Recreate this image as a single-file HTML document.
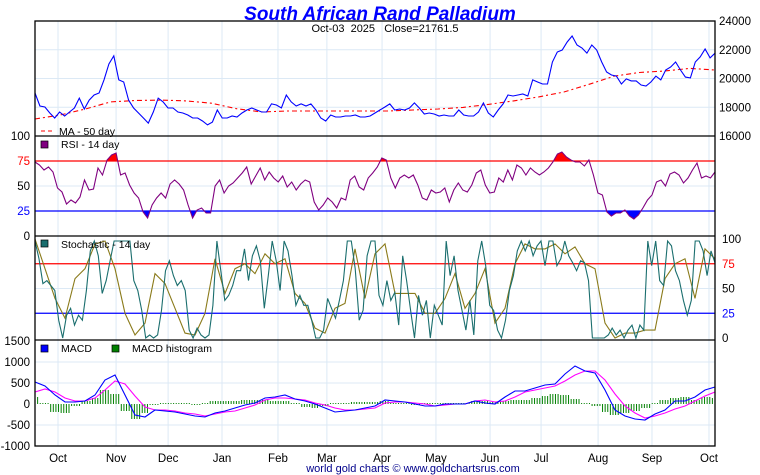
<!DOCTYPE html>
<html><head><meta charset="utf-8"><style>
body{margin:0;background:#fff;}
svg{display:block;font-family:"Liberation Sans",sans-serif;}
text{white-space:pre;}
</style></head><body>
<svg id="chart" width="760" height="475" viewBox="0 0 760 475">
<defs>
<clipPath id="clipAbove"><rect x="35" y="136" width="680" height="25"/></clipPath>
<clipPath id="clipBelow"><rect x="35" y="211" width="680" height="25"/></clipPath>
</defs>
<g id="grid"></g>
<g id="marks"></g>
<g id="frame" stroke="#000" stroke-width="1.3" fill="none">
<rect x="35" y="21" width="680" height="425"/>
<line x1="35" y1="136" x2="715" y2="136"/><line x1="35" y1="236" x2="715" y2="236"/><line x1="35" y1="340" x2="715" y2="340"/>
</g>
<text x="380" y="20" text-anchor="middle" font-size="19" font-weight="bold" font-style="italic" fill="#0000ff">South African Rand Palladium</text>
<text x="385" y="32" text-anchor="middle" font-size="11" fill="#000">Oct-03  2025   Close=21761.5</text>
<text x="413" y="472" text-anchor="middle" font-size="11" fill="#00008b">world gold charts © www.goldchartsrus.com</text>
<g><line x1="41" y1="131" x2="55" y2="131" stroke="#ff0000" stroke-dasharray="4,3"/><text x="59" y="135" font-size="10.5">MA - 50 day</text></g>
<g><rect x="41" y="141" width="7" height="7" fill="#800080" stroke="#000" stroke-width="0.7"/><text x="61" y="148" font-size="10.5">RSI - 14 day</text></g>
<g><rect x="41" y="240" width="7" height="7" fill="#1a6e6e" stroke="#000" stroke-width="0.7"/><text x="61" y="248" font-size="10.5">Stochastic - 14 day</text></g>
<g><rect x="41" y="345" width="7" height="7" fill="#0000ff" stroke="#000" stroke-width="0.7"/><text x="61" y="352" font-size="10.5">MACD</text></g>
<g><rect x="112" y="345" width="7" height="7" fill="#008000" stroke="#000" stroke-width="0.7"/><text x="132" y="352" font-size="10.5">MACD histogram</text></g>
</svg>
<script>
const months = ["Oct","Nov","Dec","Jan","Feb","Mar","Apr","May","Jun","Jul","Aug","Sep","Oct"];
const monthDay = [8.8,31,50.9,71.5,92.9,111.6,132.7,153.3,174,193.5,215.3,235.9,257.7];
const priceTicks = [24000,22000,20000,18000,16000];
const rsiTicks = [100,75,50,25,0];
const stochTicks = [100,75,50,25,0];
const macdTicks = [1500,1000,500,0,-500,-1000];
const price = [18990,18090,18020,17600,17250,17670,17390,17670,17950,18640,17880,18500,18850,18990,19900,21010,21570,19900,19760,18500,17950,17600,17250,16900,17670,18640,18370,17950,17950,17670,17600,17460,17250,17250,17040,16770,16970,17810,17250,17250,17390,17320,17600,17810,17950,17810,17670,17670,18230,18160,17950,18850,18370,18090,18230,18090,18230,17810,17250,17040,17460,17320,17320,17390,17390,17460,17320,17320,17390,17600,17810,18020,18230,17810,17880,17810,17950,18300,17950,17530,17600,17530,17390,17460,17390,17390,17810,17460,17390,17390,17670,18300,17600,17320,17810,18230,18850,18780,18850,18920,18780,19900,19760,19620,19620,21150,21840,21980,22540,22960,22330,22120,21770,22330,21980,21150,20450,20240,20170,19620,19970,19830,19830,19550,19480,19760,20170,19900,20590,20800,21150,20590,20100,20040,21150,21500,22050,21430,21760];
const ma50 = [17180,17460,17880,18370,18470,18500,18440,18280,17900,17670,17740,17740,17740,17740,17740,17810,17880,17990,18200,18440,18720,19060,19600,20170,20420,20520,20700,20590];
const rsi = [74,71,66,69,64,48,44,32,36,33,39,56,46,47,68,61,76,81,83,61,63,51,43,38,24,18,31,38,43,38,52,56,52,46,31,18,26,28,23,23,50,56,43,50,53,58,63,69,52,60,68,56,64,58,54,60,49,54,46,52,56,54,34,26,31,38,34,28,38,36,56,60,49,46,58,63,69,78,76,58,48,58,61,58,61,51,38,36,46,43,44,48,34,46,53,46,44,51,63,66,51,43,44,58,54,66,56,71,68,61,68,64,61,64,68,74,82,84,79,76,74,74,70,76,61,43,41,24,20,23,23,26,20,17,21,28,36,41,54,56,50,62,64,61,53,58,66,73,58,60,58,64];
const stochK = [98,80,55,58,53,48,18,0,23,30,13,23,18,48,88,98,83,45,58,78,98,98,98,98,98,58,48,28,0,3,0,3,28,68,78,63,53,58,48,8,0,10,3,0,3,33,98,68,38,43,53,68,68,90,58,83,93,78,30,63,98,78,48,98,88,63,33,43,33,33,18,0,0,8,40,30,20,38,58,98,98,70,18,28,83,98,98,43,33,58,38,46,13,83,58,28,0,43,23,38,0,33,23,13,98,63,83,48,28,8,38,3,78,98,73,33,28,8,0,18,48,63,88,98,88,98,83,93,98,73,98,98,73,80,98,83,76,68,78,76,58,0,0,0,0,3,10,3,8,0,8,13,0,13,8,98,73,98,58,53,98,93,68,58,38,23,38,98,98,88,63,88,76];
const stochD = [100,70,40,20,60,70,95,98,70,25,3,15,65,55,30,5,3,25,80,45,70,75,65,85,75,80,45,35,10,5,30,35,90,40,85,95,45,45,45,25,25,40,65,30,45,70,15,30,75,95,90,90,95,85,92,75,70,15,0,5,5,8,8,60,75,80,40,90,80];
const macd = [524,428,214,48,48,71,214,571,690,214,-262,-309,-143,-167,-190,-238,-286,-309,-214,-167,-95,-24,24,143,167,214,119,71,0,-95,-190,-167,-143,-95,-48,95,71,48,0,-48,-48,0,0,0,71,24,0,167,309,309,381,452,476,714,904,785,738,333,-143,-286,-357,-381,-238,-143,71,71,167,333,405];
const signal = [286,357,286,143,71,71,143,333,547,476,190,-71,-143,-143,-167,-214,-238,-286,-238,-190,-167,-95,-24,95,143,143,119,95,24,-24,-95,-143,-143,-119,-95,24,48,48,24,0,-48,-24,0,0,71,95,48,71,167,286,333,381,428,547,690,785,785,571,238,-48,-214,-333,-286,-214,-119,-48,71,190,286];
const histogram = [167,0,-190,-214,-48,71,143,333,238,-167,-357,-214,-24,0,0,0,-24,0,71,71,71,95,95,95,71,71,0,-71,-95,-48,0,24,48,48,48,71,24,0,-24,0,24,24,0,24,71,71,48,71,95,95,143,190,238,214,119,24,-48,-190,-262,-214,-167,-95,24,95,143,167,95,167,143];

const NS="http://www.w3.org/2000/svg";
const X0=35,X1=715,TOTAL=260;
const svg=document.getElementById('chart');
const grid=document.getElementById('grid');
const marks=document.getElementById('marks');
function xIdx(i,n){return X0+(X1-X0)*i/(n-1);}
function xDay(d){return X0+(X1-X0)*d/TOTAL;}
function yPrice(v){return 21+(24000-v)/8000*115;}
function yRsi(v){return 236-v;}
function yStoch(v){return 338-v*0.99;}
function yMacd(v){return 404-v*0.042;}
function mk(tag,attrs,parent){const e=document.createElementNS(NS,tag);for(const k in attrs)e.setAttribute(k,attrs[k]);(parent||marks).appendChild(e);return e;}
function pts(arr,yf){return arr.map((v,i)=>xIdx(i,arr.length).toFixed(1)+','+yf(v).toFixed(1)).join(' ');}
function txt(x,y,s,anchor,color,name){const t=mk('text',{x:x,y:y,'font-size':11.5,'text-anchor':anchor,fill:color},svg);t.textContent=s;


return t;}

monthDay.forEach((d,i)=>{const x=xDay(d);
 const l=mk('line',{x1:x,y1:21,x2:x,y2:446,stroke:'#dce9f5','stroke-width':1},grid);
 
 
 txt(x,462,months[i],'middle','#000','x-axis-month-label');});
[22000,20000,18000].forEach(v=>{const g=mk('line',{x1:X0,y1:yPrice(v),x2:X1,y2:yPrice(v),stroke:'#dce9f5'},grid);
 
 });
[1000,500,-500].forEach(v=>{const g=mk('line',{x1:X0,y1:yMacd(v),x2:X1,y2:yMacd(v),stroke:'#dce9f5'},grid);
 
 });
{const g=mk('line',{x1:X0,y1:yStoch(50),x2:X1,y2:yStoch(50),stroke:'#dce9f5'},grid);
 
 }
{const g=mk('line',{x1:X0,y1:yRsi(50),x2:X1,y2:yRsi(50),stroke:'#dce9f5'},grid);
 
 }

priceTicks.forEach(v=>txt(719,yPrice(v)+4,String(v),'start','#000','price-tick-label'));
rsiTicks.forEach(v=>txt(30,yRsi(v)+4,String(v),'end',v===75?'#ff0000':v===25?'#0000ff':'#000','rsi-tick-label'));
stochTicks.forEach(v=>txt(722,yStoch(v)+4,String(v),'start',v===75?'#ff0000':v===25?'#0000ff':'#000','stoch-tick-label'));
macdTicks.forEach(v=>txt(30,yMacd(v)+4,String(v),'end','#000','macd-tick-label'));

const rp=pts(rsi,yRsi);
let e=mk('polygon',{points:X0+','+yRsi(75)+' '+rp+' '+X1+','+yRsi(75),fill:'#ff0000','clip-path':'url(#clipAbove)'});


e=mk('polygon',{points:X0+','+yRsi(25)+' '+rp+' '+X1+','+yRsi(25),fill:'#0000ff','clip-path':'url(#clipBelow)'});



[[yRsi(75),'#ff0000','rsi-75-line'],[yRsi(25),'#0000ff','rsi-25-line'],[yStoch(75),'#ff0000','stoch-75-line'],[yStoch(25),'#0000ff','stoch-25-line']].forEach(a=>{
 const l=mk('line',{x1:X0,y1:a[0],x2:X1,y2:a[0],stroke:a[1],'stroke-width':1.2});
 
 });

e=mk('polyline',{points:pts(ma50,yPrice),fill:'none',stroke:'#ff0000','stroke-width':1.1,'stroke-dasharray':'5,3,2,3'});


e=mk('polyline',{points:pts(price,yPrice),fill:'none',stroke:'#0000ff','stroke-width':1.1});



e=mk('polyline',{points:rp,fill:'none',stroke:'#800080','stroke-width':1.1});



e=mk('polyline',{points:pts(stochD,yStoch),fill:'none',stroke:'#8a7a1a','stroke-width':1.1});


e=mk('polyline',{points:pts(stochK,yStoch),fill:'none',stroke:'#1a6e6e','stroke-width':1.1});



for(let d=0;d<=TOTAL;d++){
 const x=xDay(d);
 const idx=Math.round((x-X0)/(X1-X0)*(histogram.length-1));
 const v=histogram[idx];
 const b=mk('line',{x1:x,y1:yMacd(0),x2:x,y2:yMacd(v)+(v===0?-1:0),stroke:'#008000','stroke-width':1});
 
 
}
e=mk('polyline',{points:pts(signal,yMacd),fill:'none',stroke:'#ff00ff','stroke-width':1.1});


e=mk('polyline',{points:pts(macd,yMacd),fill:'none',stroke:'#0000ff','stroke-width':1.1});


svg.appendChild(document.getElementById('frame'));
</script>
</body></html>
